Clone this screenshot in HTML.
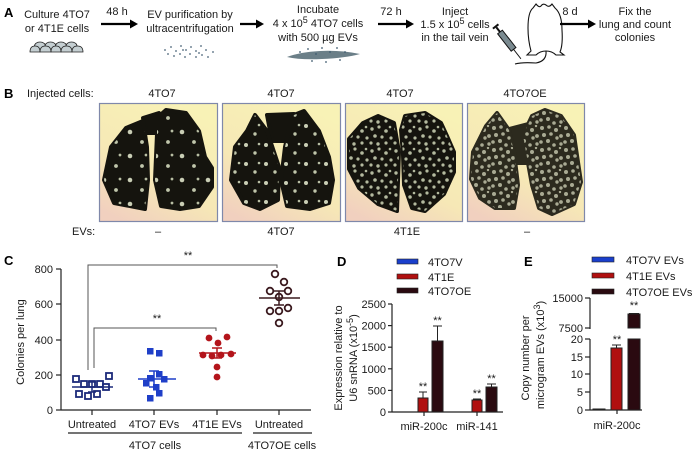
<!DOCTYPE html>
<html><head><meta charset="utf-8">
<style>
html,body{margin:0;padding:0;background:#fff}
svg{display:block}
text{font-family:"Liberation Sans",Arial,sans-serif;font-size:11px;fill:#1a1a1a}
.b{font-weight:bold;font-size:13px;fill:#000}
.s{font-size:9px}
</style></head><body>
<svg width="700" height="453" viewBox="0 0 700 453" xmlns="http://www.w3.org/2000/svg">
<defs>
<linearGradient id="bg" x1="0.7" y1="0" x2="0.2" y2="1">
<stop offset="0" stop-color="#f8f2b6"/><stop offset="0.6" stop-color="#f6e8b6"/><stop offset="1" stop-color="#f1d0bf"/>
</linearGradient>
<pattern id="p1" width="26" height="24" patternUnits="userSpaceOnUse">
<circle cx="5" cy="5" r="2.3" fill="#c9ceb5"/><circle cx="17" cy="15" r="1.9" fill="#c0c6ab"/><circle cx="21" cy="4" r="1.4" fill="#b8bea3"/>
</pattern>
<pattern id="p2" width="20" height="19" patternUnits="userSpaceOnUse">
<circle cx="4" cy="4" r="2" fill="#c9ceb5"/><circle cx="13" cy="12" r="1.7" fill="#bfc5aa"/><circle cx="17" cy="3" r="1.3" fill="#b8bea3"/>
</pattern>
<pattern id="p3" width="24" height="22" patternUnits="userSpaceOnUse">
<g fill="#b3b99e">
<circle cx="3" cy="4" r="1.7"/><circle cx="10" cy="2" r="1.6"/><circle cx="17" cy="6" r="1.8"/><circle cx="22" cy="13" r="1.6"/><circle cx="6" cy="11" r="1.8"/><circle cx="13" cy="12" r="1.6"/><circle cx="2" cy="18" r="1.6"/><circle cx="9" cy="19" r="1.7"/><circle cx="17" cy="18" r="1.6"/><circle cx="21" cy="2" r="1.3"/>
</g>
</pattern>
<pattern id="p4" width="24" height="22" patternUnits="userSpaceOnUse">
<g fill="#a9aa93">
<circle cx="3" cy="3" r="2"/><circle cx="10" cy="2" r="1.8"/><circle cx="17" cy="5" r="2"/><circle cx="22" cy="11" r="1.9"/><circle cx="5" cy="10" r="2"/><circle cx="12" cy="9" r="1.8"/><circle cx="18" cy="13" r="1.7"/><circle cx="2" cy="17" r="1.8"/><circle cx="9" cy="16" r="2"/><circle cx="15" cy="20" r="1.8"/><circle cx="22" cy="19" r="1.7"/><circle cx="21" cy="1" r="1.2"/>
</g>
</pattern>
</defs>

<!-- ===== Panel A ===== -->
<text class="b" x="4" y="17">A</text>
<text x="57" y="18" text-anchor="middle">Culture 4TO7</text>
<text x="57" y="32" text-anchor="middle">or 4T1E cells</text>
<g fill="#c5cfd2" stroke="#222" stroke-width="0.8">
<ellipse cx="40" cy="46" rx="5.5" ry="4"/><ellipse cx="50.5" cy="46" rx="5.5" ry="4"/><ellipse cx="61" cy="46" rx="5.5" ry="4"/><ellipse cx="71.5" cy="46" rx="5.5" ry="4"/>
<path d="M30,52 Q30,46 35,46 Q40,46 40,52 Z"/><path d="M40,52 Q40,46 45.5,46 Q51,46 51,52 Z"/><path d="M51,52 Q51,46 56,46 Q61,46 61,52 Z"/><path d="M61,52 Q61,46 66.5,46 Q72,46 72,52 Z"/><path d="M72,52 Q72,46 77.5,46 Q83,46 83,52 Z"/>
</g>
<text x="117" y="15" text-anchor="middle">48 h</text>
<line x1="101" y1="24" x2="131" y2="24" stroke="#000" stroke-width="2.2"/><polygon points="130,19.5 138,24 130,28.5" fill="#000"/>
<text x="190" y="18" text-anchor="middle">EV purification by</text>
<text x="190" y="32" text-anchor="middle">ultracentrifugation</text>
<g fill="#4a6478">
<circle cx="165" cy="50" r="0.9"/><circle cx="171" cy="47" r="0.9"/><circle cx="176" cy="51" r="0.9"/><circle cx="181" cy="46" r="0.9"/><circle cx="186" cy="50" r="0.9"/><circle cx="191" cy="47" r="0.9"/><circle cx="196" cy="51" r="0.9"/><circle cx="201" cy="46" r="0.9"/><circle cx="206" cy="50" r="0.9"/><circle cx="213" cy="52" r="0.9"/><circle cx="168" cy="54" r="0.9"/><circle cx="174" cy="56" r="0.9"/><circle cx="180" cy="54" r="0.9"/><circle cx="185" cy="57" r="0.9"/><circle cx="190" cy="54" r="0.9"/><circle cx="196" cy="57" r="0.9"/><circle cx="202" cy="55" r="0.9"/><circle cx="208" cy="57" r="0.9"/><circle cx="183" cy="50" r="0.9"/><circle cx="199" cy="53" r="0.9"/>
</g>
<line x1="240" y1="24" x2="257" y2="24" stroke="#000" stroke-width="2.2"/><polygon points="256,19.5 264,24 256,28.5" fill="#000"/>
<text x="318" y="13" text-anchor="middle">Incubate</text>
<text x="318" y="27" text-anchor="middle">4 x 10<tspan class="s" dy="-4">5</tspan><tspan dy="4">  4TO7 cells</tspan></text>
<text x="318" y="41" text-anchor="middle">with 500 µg EVs</text>
<g>
<path d="M287,57 Q300,52 320,51 Q340,50 360,54 Q345,58 322,59 Q300,60 287,57 Z" fill="#6b7f88"/>
<g fill="#3d5a6e"><circle cx="300" cy="52" r="0.9"/><circle cx="308" cy="49" r="0.9"/><circle cx="316" cy="54" r="0.9"/><circle cx="322" cy="48" r="0.9"/><circle cx="330" cy="52" r="0.9"/><circle cx="337" cy="48" r="0.9"/><circle cx="345" cy="52" r="0.9"/><circle cx="312" cy="61" r="0.9"/><circle cx="326" cy="62" r="0.9"/><circle cx="340" cy="60" r="0.9"/></g>
</g>
<text x="391" y="15" text-anchor="middle">72 h</text>
<line x1="378" y1="24" x2="407" y2="24" stroke="#000" stroke-width="2.2"/><polygon points="406,19.5 414,24 406,28.5" fill="#000"/>
<text x="455" y="15" text-anchor="middle">Inject</text>
<text x="455" y="28" text-anchor="middle">1.5 x 10<tspan class="s" dy="-4">5</tspan><tspan dy="4">  cells</tspan></text>
<text x="455" y="41" text-anchor="middle">in the tail vein</text>
<!-- syringe -->
<g transform="translate(500,32) rotate(52)">
<rect x="0" y="-3" width="22" height="6" fill="#7a8a90" stroke="#111" stroke-width="1"/>
<rect x="-6" y="-1" width="6" height="2" fill="#111"/>
<rect x="-8" y="-3.5" width="2" height="7" fill="#111"/>
<line x1="22" y1="0" x2="34" y2="0" stroke="#111" stroke-width="0.9"/>
</g>
<!-- mouse -->
<path d="M536,4 Q539,8 541,6 Q543,3 546,5 Q549,8 552,4 L555,8 Q562,14 562,30 Q563,45 560,52 L564,55 L556,55 Q552,51 546,51 Q540,51 536,55 L527,55 L531,51 Q528,40 528,28 Q528,12 533,8 Z" fill="#fff" stroke="#111" stroke-width="1.1"/>
<path d="M546,51 Q547,61 536,63 Q522,62 515,64" fill="none" stroke="#111" stroke-width="1.1"/>
<text x="570" y="15" text-anchor="middle">8 d</text>
<line x1="560" y1="24" x2="589" y2="24" stroke="#000" stroke-width="2.2"/><polygon points="588,19.5 596,24 588,28.5" fill="#000"/>
<text x="635" y="15" text-anchor="middle">Fix the</text>
<text x="635" y="28" text-anchor="middle">lung and count</text>
<text x="635" y="41" text-anchor="middle">colonies</text>

<!-- ===== Panel B ===== -->
<text class="b" x="4" y="98">B</text>
<text x="27" y="97">Injected cells:</text>
<text x="162" y="97" text-anchor="middle">4TO7</text>
<text x="281" y="97" text-anchor="middle">4TO7</text>
<text x="400" y="97" text-anchor="middle">4TO7</text>
<text x="525" y="97" text-anchor="middle">4TO7OE</text>

<g transform="translate(99,103)">
<rect x="0.5" y="0.5" width="118" height="118" fill="url(#bg)" stroke="#7f88aa" stroke-width="1.2"/>
<g fill="#15140e" stroke="#15140e" stroke-width="4" stroke-linejoin="round">
<polygon points="44,15 60,10 60,30 48,30"/>
<polygon points="44,18 48,44 49,77 46,106 15,100 5,77 12,44 27,25"/>
<polygon points="67,7 87,10 100,28 106,54 113,65 113,84 100,103 81,106 62,103 56,77 58,31 58,15"/>
</g>
<polygon points="44,18 48,44 49,77 46,106 15,100 5,77 12,44 27,25" fill="url(#p1)"/>
<polygon points="67,7 87,10 100,28 106,54 113,65 113,84 100,103 81,106 62,103 56,77 58,31 58,15" fill="url(#p1)"/>
</g>
<g transform="translate(222,103)">
<rect x="0.5" y="0.5" width="118" height="118" fill="url(#bg)" stroke="#7f88aa" stroke-width="1.2"/>
<g fill="#15140e" stroke="#15140e" stroke-width="4" stroke-linejoin="round">
<polygon points="45,12 72,11 70,38 50,38"/>
<polygon points="33,12 45,28 57,64 56,97 38,106 22,100 9,77 13,44 25,28"/>
<polygon points="72,12 82,8 97,28 107,54 111,77 107,100 88,106 65,103 59,77 63,44 68,22"/>
</g>
<polygon points="33,12 45,28 57,64 56,97 38,106 22,100 9,77 13,44 25,28" fill="url(#p2)"/>
<polygon points="72,12 82,8 97,28 107,54 111,77 107,100 88,106 65,103 59,77 63,44 68,22" fill="url(#p2)"/>
</g>
<g transform="translate(345,103)">
<rect x="0.5" y="0.5" width="117" height="118" fill="url(#bg)" stroke="#7f88aa" stroke-width="1.2"/>
<g fill="#15140e" stroke="#15140e" stroke-width="4" stroke-linejoin="round">
<polygon points="33,13 49,20 54,49 52,108 33,101 14,85 4,66 4,36 18,20"/>
<polygon points="60,13 80,10 96,20 102,33 109,49 109,69 99,91 80,108 67,105 59,82 58,52 56,27"/>
</g>
<polygon points="33,13 49,20 54,49 52,108 33,101 14,85 4,66 4,36 18,20" fill="url(#p3)"/>
<polygon points="60,13 80,10 96,20 102,33 109,49 109,69 99,91 80,108 67,105 59,82 58,52 56,27" fill="url(#p3)"/>
</g>
<g transform="translate(467,103)">
<rect x="0.5" y="0.5" width="117" height="118" fill="url(#bg)" stroke="#7f88aa" stroke-width="1.2"/>
<g fill="#2c2a1e" stroke="#2c2a1e" stroke-width="4" stroke-linejoin="round">
<polygon points="42,26 65,20 62,60 50,60"/>
<polygon points="30,10 42,27 47,49 51,82 47,105 28,105 13,95 4,76 6,49 19,23"/>
<polygon points="65,13 78,7 94,13 107,32 111,59 114,79 107,101 85,111 72,105 65,82 59,49 56,32"/>
</g>
<polygon points="30,10 42,27 47,49 51,82 47,105 28,105 13,95 4,76 6,49 19,23" fill="url(#p4)"/>
<polygon points="65,13 78,7 94,13 107,32 111,59 114,79 107,101 85,111 72,105 65,82 59,49 56,32" fill="url(#p4)"/>
</g>
<text x="72" y="235">EVs:</text>
<text x="158" y="235" text-anchor="middle">–</text>
<text x="281" y="235" text-anchor="middle">4TO7</text>
<text x="407" y="235" text-anchor="middle">4T1E</text>
<text x="527" y="235" text-anchor="middle">–</text>

<!-- ===== Panel C ===== -->
<text class="b" x="4" y="265">C</text>
<g stroke="#222" stroke-width="1.2" fill="none">
<line x1="61" y1="269" x2="61" y2="410"/>
<line x1="61" y1="410" x2="311" y2="410"/>
<line x1="56" y1="269" x2="61" y2="269"/><line x1="56" y1="304" x2="61" y2="304"/><line x1="56" y1="340" x2="61" y2="340"/><line x1="56" y1="375" x2="61" y2="375"/><line x1="56" y1="410" x2="61" y2="410"/>
<line x1="92" y1="410" x2="92" y2="415"/><line x1="154" y1="410" x2="154" y2="415"/><line x1="217" y1="410" x2="217" y2="415"/><line x1="279" y1="410" x2="279" y2="415"/>
<line x1="68" y1="433" x2="242" y2="433"/><line x1="253" y1="433" x2="312" y2="433"/>
</g>
<g stroke="#555" stroke-width="1" fill="none">
<path d="M88,370 V265 H277 V268"/>
<path d="M94,368 V328 H216 V331"/>
</g>
<text x="188" y="259" text-anchor="middle">**</text>
<text x="157" y="322" text-anchor="middle">**</text>
<g text-anchor="end">
<text x="53" y="273">800</text><text x="53" y="308">600</text><text x="53" y="344">400</text><text x="53" y="379">200</text><text x="53" y="414">0</text>
</g>
<text transform="translate(24,342) rotate(-90)" text-anchor="middle">Colonies per lung</text>
<g text-anchor="middle">
<text x="92" y="428">Untreated</text><text x="154" y="428">4TO7 EVs</text><text x="217" y="428">4T1E EVs</text><text x="279" y="428">Untreated</text>
<text x="155" y="449">4TO7 cells</text><text x="282" y="449">4TO7OE cells</text>
</g>
<!-- untreated -->
<g fill="#fff" stroke="#1c2a7a" stroke-width="1.8">
<rect x="73" y="376" width="6" height="6"/><rect x="81" y="381" width="6" height="6"/><rect x="89" y="381" width="6" height="6"/><rect x="97" y="381" width="6" height="6"/><rect x="106" y="373" width="6" height="6"/><rect x="103" y="384" width="6" height="6"/><rect x="76" y="391" width="6" height="6"/><rect x="85" y="393" width="6" height="6"/><rect x="94" y="391" width="6" height="6"/>
</g>
<g stroke="#1c2a7a" stroke-width="1.5"><line x1="72" y1="387" x2="113" y2="387"/><line x1="92" y1="382" x2="92" y2="392"/><line x1="88" y1="382" x2="96" y2="382"/><line x1="88" y1="392" x2="96" y2="392"/></g>
<!-- 4TO7 EVs -->
<g fill="#1f3fc8">
<rect x="147" y="348" width="6.5" height="6.5"/><rect x="156" y="350" width="6.5" height="6.5"/><rect x="147" y="375" width="6.5" height="6.5"/><rect x="156" y="371" width="6.5" height="6.5"/><rect x="161" y="376" width="6.5" height="6.5"/><rect x="143" y="380" width="6.5" height="6.5"/><rect x="153" y="384" width="6.5" height="6.5"/><rect x="156" y="390" width="6.5" height="6.5"/><rect x="147" y="395" width="6.5" height="6.5"/>
</g>
<g stroke="#1f3fc8" stroke-width="1.5"><line x1="138" y1="379" x2="176" y2="379"/><line x1="154" y1="371" x2="154" y2="387"/><line x1="149" y1="371" x2="159" y2="371"/><line x1="149" y1="387" x2="159" y2="387"/></g>
<!-- 4T1E EVs -->
<g fill="#b3141b">
<circle cx="209" cy="338" r="3.4"/><circle cx="218" cy="343" r="3.4"/><circle cx="227" cy="337" r="3.4"/><circle cx="203" cy="355" r="3.4"/><circle cx="212" cy="356" r="3.4"/><circle cx="221" cy="355" r="3.4"/><circle cx="231" cy="354" r="3.4"/><circle cx="217" cy="367" r="3.4"/><circle cx="217" cy="377" r="3.4"/>
</g>
<g stroke="#b3141b" stroke-width="1.5"><line x1="199" y1="353" x2="236" y2="353"/><line x1="217" y1="348" x2="217" y2="358"/><line x1="212" y1="348" x2="222" y2="348"/><line x1="212" y1="358" x2="222" y2="358"/></g>
<!-- 4TO7OE -->
<g fill="#fff" stroke="#3b1a1f" stroke-width="1.8">
<circle cx="275" cy="274" r="3.3"/><circle cx="284" cy="282" r="3.3"/><circle cx="270" cy="291" r="3.3"/><circle cx="279" cy="297" r="3.3"/><circle cx="288" cy="291" r="3.3"/><circle cx="270" cy="311" r="3.3"/><circle cx="279" cy="311" r="3.3"/><circle cx="288" cy="308" r="3.3"/><circle cx="279" cy="323" r="3.3"/>
</g>
<g stroke="#3b1a1f" stroke-width="1.5"><line x1="259" y1="298" x2="300" y2="298"/><line x1="279" y1="291" x2="279" y2="305"/><line x1="274" y1="291" x2="284" y2="291"/><line x1="274" y1="305" x2="284" y2="305"/></g>

<!-- ===== Panel D ===== -->
<text class="b" x="337" y="266">D</text>
<rect x="397" y="259" width="21" height="5" fill="#1a3fcc" stroke="#222" stroke-width="0.6"/>
<rect x="397" y="274" width="21" height="5" fill="#b01010" stroke="#222" stroke-width="0.6"/>
<rect x="397" y="288" width="21" height="5" fill="#2a0a10" stroke="#222" stroke-width="0.6"/>
<text x="428" y="266">4TO7V</text><text x="428" y="281">4T1E</text><text x="428" y="295">4TO7OE</text>
<g stroke="#222" stroke-width="1.2">
<line x1="392" y1="304" x2="392" y2="412"/><line x1="392" y1="412" x2="503" y2="412"/>
<line x1="388" y1="304" x2="392" y2="304"/><line x1="388" y1="325.6" x2="392" y2="325.6"/><line x1="388" y1="347.2" x2="392" y2="347.2"/><line x1="388" y1="368.8" x2="392" y2="368.8"/><line x1="388" y1="390.4" x2="392" y2="390.4"/><line x1="388" y1="412" x2="392" y2="412"/>
<line x1="424" y1="412" x2="424" y2="416"/><line x1="477" y1="412" x2="477" y2="416"/>
</g>
<g text-anchor="end">
<text x="386" y="308">2500</text><text x="386" y="329.6">2000</text><text x="386" y="351.2">1500</text><text x="386" y="372.8">1000</text><text x="386" y="394.4">500</text><text x="386" y="416">0</text>
</g>
<text transform="translate(342,358) rotate(-90)" text-anchor="middle">Expression relative to</text>
<text transform="translate(357,358) rotate(-90)" text-anchor="middle">U6 snRNA (x10<tspan class="s" dy="-4">-5</tspan><tspan dy="4">)</tspan></text>
<g stroke="#222" stroke-width="1">
<rect x="418" y="398" width="10" height="14" fill="#b01010"/>
<rect x="432" y="341" width="11" height="71" fill="#2a0a10"/>
<rect x="472" y="400" width="10" height="12" fill="#b01010"/>
<rect x="486" y="387" width="11" height="25" fill="#2a0a10"/>
<line x1="423" y1="398" x2="423" y2="392"/><line x1="419" y1="392" x2="427" y2="392"/>
<line x1="437.5" y1="341" x2="437.5" y2="326"/><line x1="433" y1="326" x2="442" y2="326"/>
<line x1="477" y1="400" x2="477" y2="399"/><line x1="473" y1="399" x2="481" y2="399"/>
<line x1="491.5" y1="387" x2="491.5" y2="384"/><line x1="487" y1="384" x2="496" y2="384"/>
</g>
<g text-anchor="middle" font-size="10">
<text x="423" y="390">**</text><text x="437.5" y="324">**</text><text x="477" y="397">**</text><text x="491.5" y="382">**</text>
</g>
<text x="424" y="430" text-anchor="middle">miR-200c</text>
<text x="477" y="430" text-anchor="middle">miR-141</text>

<!-- ===== Panel E ===== -->
<text class="b" x="524" y="266">E</text>
<rect x="592" y="257" width="22" height="5" fill="#1a3fcc" stroke="#222" stroke-width="0.6"/>
<rect x="592" y="273" width="22" height="5" fill="#b01010" stroke="#222" stroke-width="0.6"/>
<rect x="592" y="289" width="22" height="5" fill="#2a0a10" stroke="#222" stroke-width="0.6"/>
<text x="626" y="264">4TO7V EVs</text><text x="626" y="280">4T1E EVs</text><text x="626" y="296">4TO7OE EVs</text>
<text transform="translate(529,358) rotate(-90)" text-anchor="middle">Copy number per</text>
<text transform="translate(544,355) rotate(-90)" text-anchor="middle">microgram EVs (x10<tspan class="s" dy="-4">3</tspan><tspan dy="4">)</tspan></text>
<g stroke="#222" stroke-width="1.2">
<line x1="590" y1="298" x2="590" y2="329"/>
<line x1="590" y1="339" x2="590" y2="410"/>
<line x1="590" y1="410" x2="642" y2="410"/>
<line x1="585" y1="298" x2="590" y2="298"/><line x1="585" y1="328" x2="590" y2="328"/>
<line x1="585" y1="339" x2="590" y2="339"/><line x1="585" y1="357" x2="590" y2="357"/><line x1="585" y1="374" x2="590" y2="374"/><line x1="585" y1="392" x2="590" y2="392"/><line x1="585" y1="410" x2="590" y2="410"/>
<line x1="617" y1="410" x2="617" y2="414"/>
</g>
<g text-anchor="end">
<text x="583" y="302">15000</text><text x="583" y="332">7500</text>
<text x="583" y="343">20</text><text x="583" y="361">15</text><text x="583" y="378">10</text><text x="583" y="396">5</text><text x="583" y="414">0</text>
</g>
<g stroke="#222" stroke-width="1">
<rect x="593" y="409" width="12" height="1" fill="#1a3fcc"/>
<rect x="611" y="348" width="11" height="62" fill="#b01010"/>
<rect x="628" y="339" width="12" height="71" fill="#2a0a10"/>
<rect x="628" y="314" width="12" height="14" fill="#2a0a10"/>
<line x1="616.5" y1="348" x2="616.5" y2="345"/><line x1="612" y1="345" x2="621" y2="345"/>
<line x1="629" y1="313.5" x2="639" y2="313.5"/>
</g>
<g text-anchor="middle" font-size="10">
<text x="617" y="343">**</text><text x="634" y="309">**</text>
</g>
<text x="617" y="429" text-anchor="middle">miR-200c</text>
</svg>
</body></html>
